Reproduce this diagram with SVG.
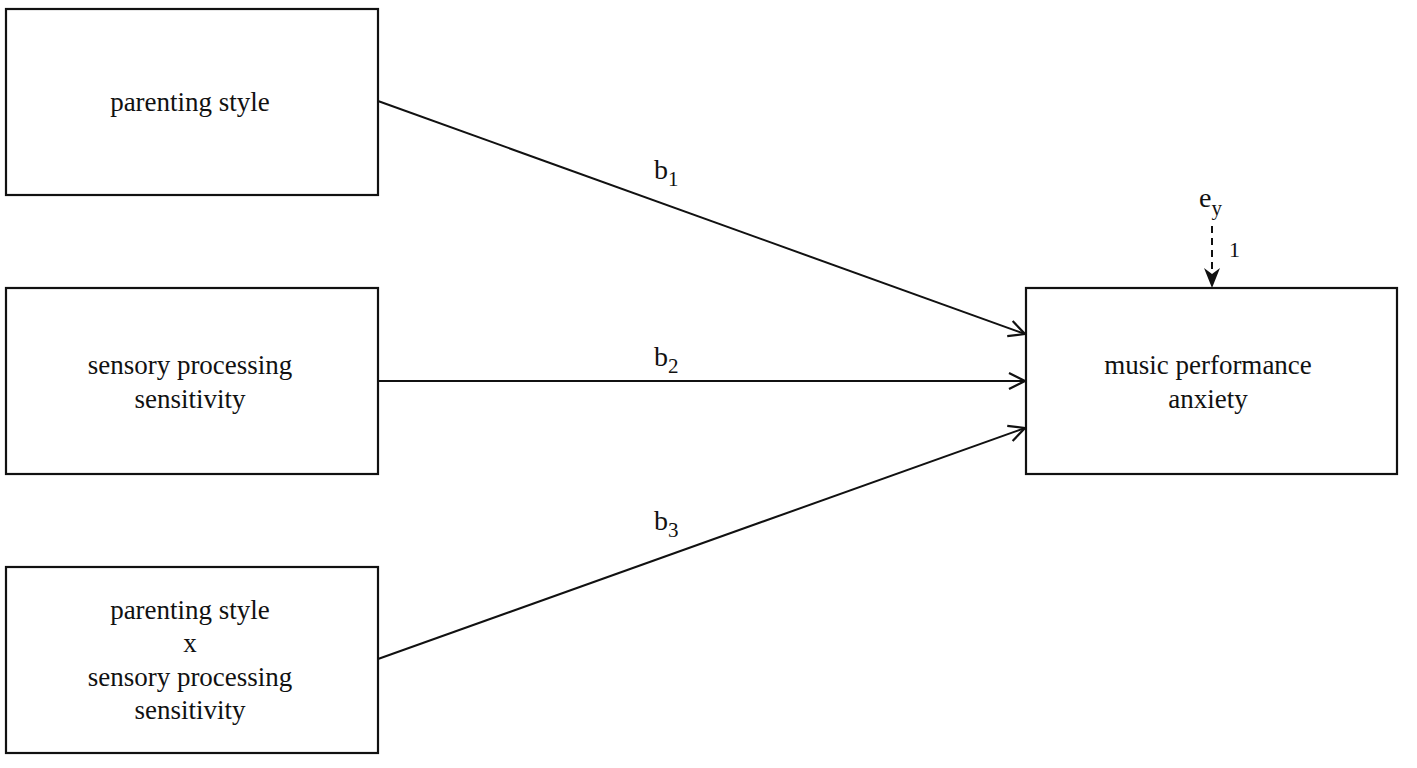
<svg xmlns="http://www.w3.org/2000/svg" width="1417" height="768" viewBox="0 0 1417 768">
<style>
.box{fill:#fff;stroke:#111;stroke-width:2.2}
.t{font-family:"Liberation Serif","Times New Roman",serif;font-size:27px;fill:#111;text-anchor:middle}
.lab{font-family:"Liberation Serif","Times New Roman",serif;font-size:28px;fill:#111}
.sub{font-size:21px}
.edge{stroke:#111;stroke-width:2;fill:none}
</style>
<defs>
<marker id="open" viewBox="0 0 20 20" refX="18" refY="10" markerWidth="20" markerHeight="20" markerUnits="userSpaceOnUse" orient="auto">
<path d="M2,2 L18,10 L2,18" fill="none" stroke="#111" stroke-width="2.2"/>
</marker>
</defs>
<g id="node-parenting">
<rect class="box" x="6" y="9" width="372" height="186"/>
<text class="t" x="190" y="111">parenting style</text>
</g>
<g id="node-sps">
<rect class="box" x="6" y="288" width="372" height="186"/>
<text class="t" x="190" y="374">sensory processing</text>
<text class="t" x="190" y="408">sensitivity</text>
</g>
<g id="node-interaction">
<rect class="box" x="6" y="567" width="372" height="186"/>
<text class="t" x="190" y="619">parenting style</text>
<text class="t" x="190" y="652">x</text>
<text class="t" x="190" y="686">sensory processing</text>
<text class="t" x="190" y="719">sensitivity</text>
</g>
<g id="node-mpa">
<rect class="box" x="1026" y="288" width="371" height="186"/>
<text class="t" x="1208" y="374">music performance</text>
<text class="t" x="1208" y="408">anxiety</text>
</g>
<g id="node-ey">
<text class="lab" x="1199" y="207">e<tspan class="sub" dy="8">y</tspan></text>
</g>
<g id="connectors">
<line class="edge" x1="378" y1="101" x2="1025" y2="334" marker-end="url(#open)"/>
<line class="edge" x1="378" y1="381" x2="1025" y2="381" marker-end="url(#open)"/>
<line class="edge" x1="378" y1="659" x2="1025" y2="428" marker-end="url(#open)"/>
<line class="edge" x1="1212" y1="226" x2="1212" y2="272" stroke-dasharray="7,5"/>
<path d="M1204,268 L1212,274 L1220,268 L1212,288 Z" fill="#111"/>
<text class="lab" x="654" y="179">b<tspan class="sub" dy="7">1</tspan></text>
<text class="lab" x="654" y="366">b<tspan class="sub" dy="7">2</tspan></text>
<text class="lab" x="654" y="530">b<tspan class="sub" dy="7">3</tspan></text>
<text class="lab" x="1229" y="257" style="font-size:22px">1</text>
</g>
</svg>
